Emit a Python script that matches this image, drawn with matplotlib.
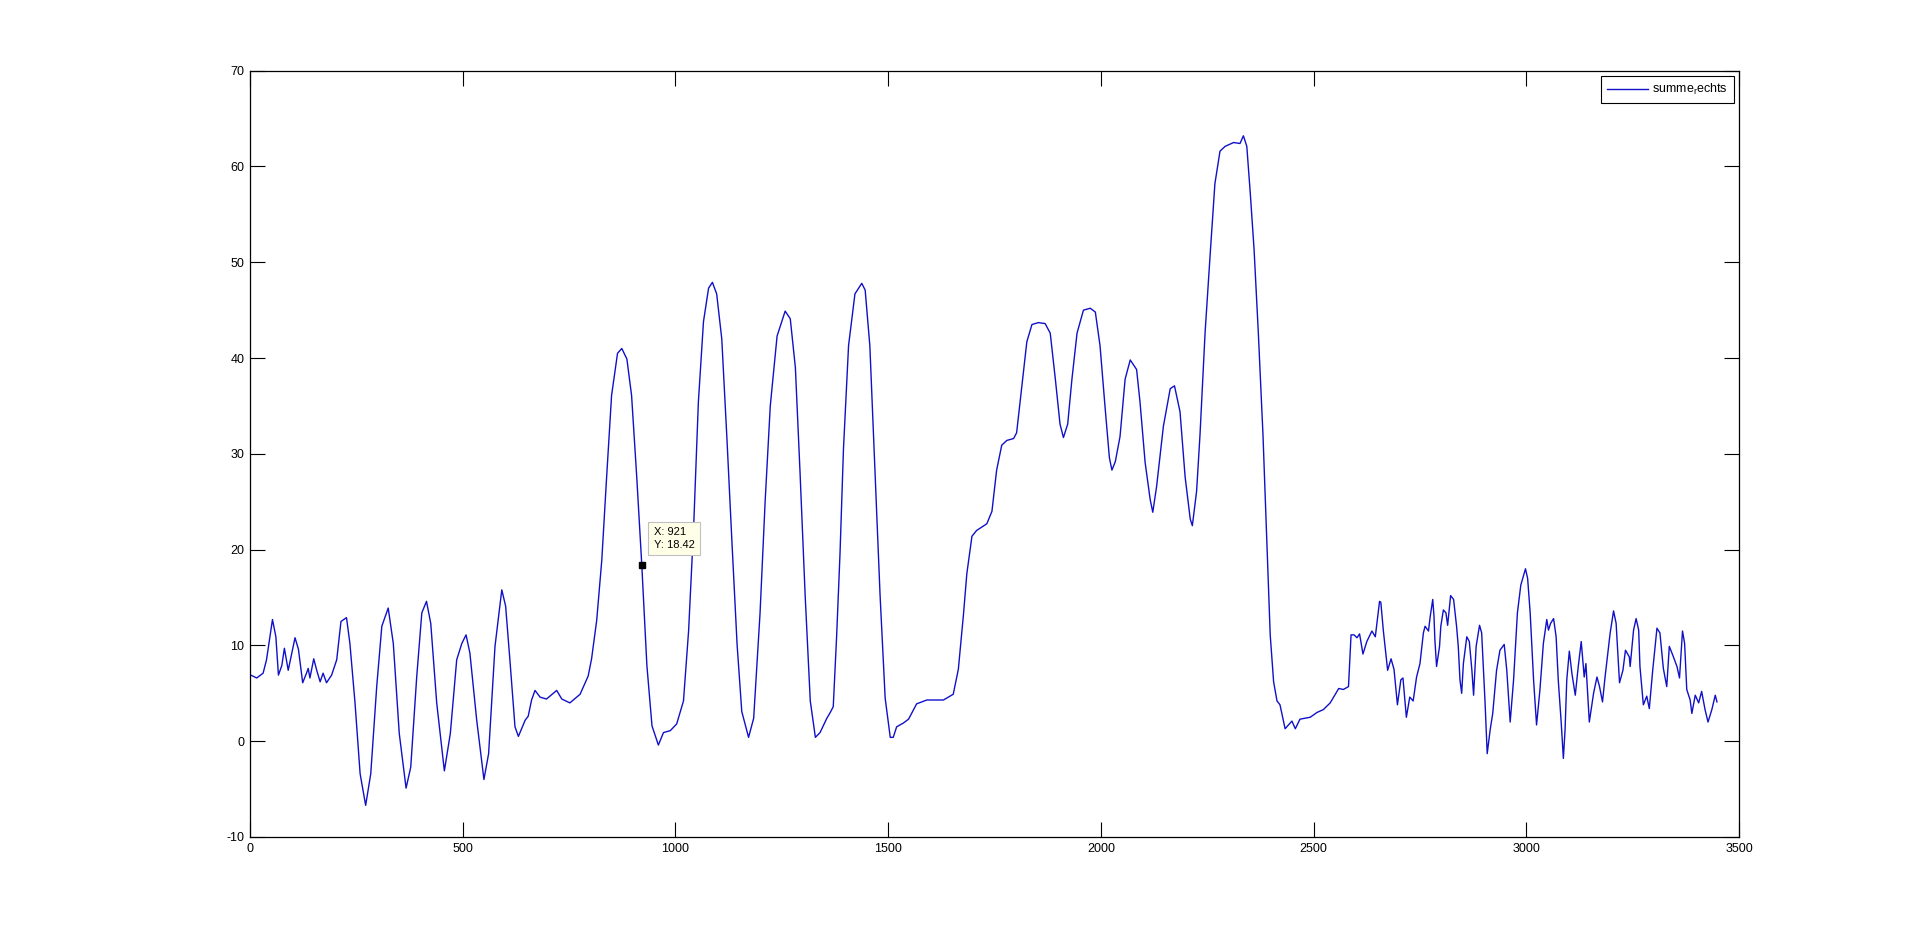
import matplotlib
matplotlib.use("Agg")
from matplotlib import pyplot as plt

plt.rcParams['font.family'] = ['Liberation Sans', 'DejaVu Sans']
plt.rcParams['mathtext.default'] = 'regular'
plt.rcParams['axes.unicode_minus'] = False

# curve points (x = sample index, y = value)
x_pts = [2, 16, 31, 39, 53, 61, 67, 75, 81, 90, 106, 114, 124, 133, 137, 141, 150, 157, 165, 172,
         180, 192, 204, 214, 227, 235, 247, 259, 272, 284, 298, 310, 325, 337, 351, 367, 378, 392,
         404, 415, 425, 439, 457, 471, 486, 498, 508, 517, 533, 550, 561, 576, 592, 601, 611, 623,
         631, 647, 654, 662, 670, 682,
         697, 721, 733, 752, 776, 795, 803, 815, 827, 838, 850, 864, 874, 886, 897, 909, 921, 933,
         945, 960, 972, 988, 1003, 1019, 1031, 1043, 1054, 1066, 1078, 1087, 1097, 1109, 1121, 1133,
         1145, 1156, 1172, 1184, 1199, 1211, 1223, 1239, 1258, 1270, 1282, 1293, 1305, 1317, 1329,
         1340, 1356, 1364,
         1371, 1379, 1387, 1395, 1407, 1422, 1438, 1446, 1457, 1469, 1481, 1493, 1505, 1512, 1520,
         1536, 1548, 1567, 1591, 1614, 1630, 1653, 1665, 1677, 1685, 1697, 1708, 1732, 1744, 1755,
         1767, 1779, 1795, 1802, 1814, 1826, 1838, 1853, 1869, 1881, 1893, 1904, 1912, 1922, 1932,
         1944, 1959, 1975, 1987, 1998, 2010, 2020, 2026, 2034, 2045, 2057, 2069,
         2084, 2092, 2104, 2116, 2122, 2131, 2147, 2163, 2173, 2186, 2198, 2210, 2215, 2225, 2233,
         2245, 2257, 2268, 2280, 2292, 2312, 2327, 2335, 2343, 2351, 2360, 2370, 2381, 2390, 2398,
         2406, 2414, 2421, 2433, 2449, 2457, 2468, 2492, 2508, 2523, 2539, 2559, 2570, 2582, 2588,
         2595, 2602, 2608, 2616, 2625, 2637, 2645, 2655, 2658, 2664, 2674, 2682, 2689, 2697, 2705,
         2710, 2718, 2726, 2734, 2742, 2750, 2758, 2762, 2770, 2774,
         2780, 2783, 2785, 2789, 2796, 2799, 2805, 2811, 2815, 2822, 2829, 2836, 2840, 2844, 2848,
         2852, 2860, 2866, 2872, 2876, 2882, 2890, 2895, 2903, 2908, 2915, 2921, 2930, 2938, 2948,
         2954, 2962, 2970, 2979, 2987, 2998, 3003, 3009, 3017, 3024, 3032, 3040, 3048, 3052, 3057,
         3064, 3070, 3075, 3082, 3087, 3091, 3095, 3101, 3107, 3115, 3122, 3129, 3136, 3140, 3148,
         3158, 3166, 3172, 3179, 3185, 3197, 3205, 3211, 3219, 3227, 3233, 3242, 3244, 3252, 3258,
         3264, 3267, 3275, 3283, 3289, 3297, 3307, 3314, 3322, 3330, 3336, 3344, 3354, 3360, 3367,
         3372, 3377, 3385, 3389, 3397, 3405, 3412, 3420, 3427, 3436, 3444, 3448]
y_pts = [6.9, 6.6, 7.1, 8.5, 12.7, 10.9, 6.9, 7.9, 9.7, 7.4, 10.8, 9.6, 6.1, 7.1, 7.6, 6.6, 8.6, 7.4, 6.2, 7.1,
         6.1, 6.9, 8.5, 12.5, 12.9, 10.2, 4.0, -3.4, -6.7, -3.4, 5.7, 12.0, 13.9, 10.2, 0.8, -4.9, -2.7, 6.7,
         13.4, 14.6, 12.3, 4.0, -3.1, 0.8, 8.5, 10.2, 11.1, 9.2, 2.2, -4.0, -1.3, 9.9, 15.8, 14.1, 8.5, 1.5,
         0.5, 2.2, 2.6, 4.3, 5.3, 4.6,
         4.4, 5.3, 4.4, 4.0, 4.9, 6.8, 8.6, 12.6, 18.9, 27.3, 36.1, 40.5, 41.0, 39.9, 36.1, 27.7, 18.4, 7.9,
         1.6, -0.4, 0.9, 1.1, 1.8, 4.2, 11.5, 22.5, 35.4, 43.8, 47.3, 47.9, 46.7, 42.0, 31.7, 20.7,
         10.1, 3.1, 0.4, 2.4, 13.4, 25.1, 35.0, 42.3, 44.9, 44.1, 39.0, 28.0, 15.2, 4.2, 0.4,
         0.9, 2.4, 3.0,
         3.6, 11.0, 19.7, 30.5, 41.3, 46.7, 47.8, 47.1, 41.3, 28.3, 15.3, 4.5, 0.4, 0.4, 1.5,
         1.9, 2.3, 3.9, 4.3, 4.3, 4.3, 4.9, 7.5, 13.2, 17.5, 21.4, 22.0, 22.7, 24.0, 28.3,
         30.9, 31.4, 31.6, 32.2, 37.0, 41.7, 43.5, 43.7, 43.6, 42.6, 37.8, 33.1, 31.7, 33.1, 37.8,
         42.6, 45.0, 45.2, 44.8, 41.3, 34.8, 29.6, 28.3, 29.2, 31.8, 37.8, 39.8,
         38.8, 35.4, 29.1, 25.2, 23.9, 26.6, 32.9, 36.8, 37.1, 34.4, 27.6, 23.2, 22.5, 26.1, 32.0,
         42.7, 50.9, 58.2, 61.6, 62.1, 62.5, 62.4, 63.2, 62.1, 57.3, 51.4, 42.7, 32.0, 20.8, 11.1,
         6.2, 4.2, 3.8, 1.3, 2.1, 1.3, 2.3, 2.5, 3.0, 3.3, 4.0, 5.5, 5.4, 5.7, 11.1,
         11.1, 10.8, 11.2, 9.1, 10.4, 11.5, 10.9, 14.6, 14.5, 11.5, 7.4, 8.6, 7.5, 3.8, 6.4,
         6.6, 2.5, 4.6, 4.2, 6.7, 8.1, 11.3, 12.0, 11.5, 13.0,
         14.8, 13.0, 10.6, 7.8, 9.9, 12.0, 13.7, 13.4, 12.1, 15.2, 14.8, 12.0, 9.9, 6.4, 5.0,
         8.1, 10.9, 10.4, 7.4, 4.8, 9.9, 12.1, 11.3, 4.0, -1.3, 1.2, 2.9, 7.4, 9.5, 10.1,
         7.4, 2.0, 6.4, 13.4, 16.3, 18.0, 17.0, 13.4, 6.4, 1.7, 5.4, 10.2, 12.7, 11.6, 12.3,
         12.8, 10.9, 6.4, 1.9, -1.8, 1.2, 6.4, 9.4, 7.1, 4.8, 7.8, 10.4, 6.7, 8.1, 2.0,
         5.0, 6.7, 5.7, 4.1, 6.7, 11.3, 13.6, 12.3, 6.1, 7.4, 9.5, 8.8, 7.8, 11.6, 12.8,
         11.6, 7.8, 3.8, 4.7, 3.4, 7.4, 11.8, 11.3, 7.6, 5.7, 9.9, 9.0, 7.8, 6.6, 11.5,
         10.2, 5.4, 4.3, 2.9, 4.8, 4.0, 5.2, 3.3, 2.0, 3.3, 4.8, 4.1]

tip_x = 921
tip_y = 18.42

fig = plt.figure(figsize=(19.21, 9.40), dpi=100)
ax = fig.add_axes([0.1301, 0.1096, 0.7752, 0.8152])

ax.plot(x_pts, y_pts, color='#1010c8', linewidth=1.0, label=r'summe$_r$echts')

# data tip
ax.plot([tip_x], [tip_y], marker='s', color='black', markersize=5, linestyle='none')
ax.annotate('X: %d\nY: %.2f' % (tip_x, tip_y), xy=(tip_x, tip_y),
            xytext=(12, 15), textcoords='offset pixels', ha='left', va='bottom',
            fontsize=8, linespacing=1.3,
            bbox=dict(boxstyle='square,pad=0.5', facecolor='#ffffe8', edgecolor='#c0c0c0',
                      linewidth=0.8))

ax.set_xlim(0, 3500)
ax.set_ylim(-10, 70)
ax.set_xticks(range(0, 3501, 500))
ax.set_yticks(range(-10, 71, 10))
ax.tick_params(direction='in', length=11, width=0.8, labelsize=9, pad=4,
               top=True, right=True)
for s in ax.spines.values():
    s.set_linewidth(0.9)

leg = ax.legend(loc='upper right', fontsize=9, handlelength=3.3, handletextpad=0.3,
                borderaxespad=0.4, borderpad=0.5, fancybox=False, framealpha=1)
leg.get_frame().set_edgecolor('black')
leg.get_frame().set_linewidth(0.8)

fig.savefig('out.png', dpi=100)
